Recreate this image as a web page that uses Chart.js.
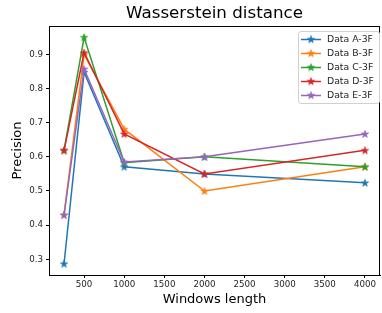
<!DOCTYPE html>
<html>
<head>
<meta charset="utf-8">
<script src="https://cdn.jsdelivr.net/npm/chart.js@4.4.1/dist/chart.umd.min.js"></script>
<style>
  html, body { margin: 0; padding: 0; background: #fff; }
  #wrap { width: 382px; height: 313px; }
</style>
</head>
<body>
<div id="wrap"><canvas id="chart" width="382" height="313"></canvas></div>
<script>
const windowLengths = [250, 500, 1000, 2000, 4000];
const seriesNames = ['Data A-3F', 'Data B-3F', 'Data C-3F', 'Data D-3F', 'Data E-3F'];
const dataA = [0.287, 0.848, 0.571, 0.550, 0.524];
const dataB = [0.430, 0.900, 0.681, 0.500, 0.571];
const dataC = [0.619, 0.950, 0.583, 0.600, 0.571];
const dataD = [0.619, 0.905, 0.667, 0.550, 0.619];
const dataE = [0.430, 0.857, 0.585, 0.600, 0.667];
const xTicks = [500, 1000, 1500, 2000, 2500, 3000, 3500, 4000];
const yTicks = [0.3, 0.4, 0.5, 0.6, 0.7, 0.8, 0.9];
const colors = ['#1f77b4', '#ff7f0e', '#2ca02c', '#d62728', '#9467bd'];

const FONT = "'DejaVu Sans', sans-serif";

function makeStar(color) {
  const c = document.createElement('canvas');
  c.width = 10; c.height = 10;
  const g = c.getContext('2d');
  const cx = 5, cy = 5.3, ro = 3.9, ri = 1.6;
  g.beginPath();
  for (let i = 0; i < 10; i++) {
    const r = i % 2 === 0 ? ro : ri;
    const a = -Math.PI / 2 + i * Math.PI / 5;
    const px = cx + r * Math.cos(a), py = cy + r * Math.sin(a);
    if (i === 0) g.moveTo(px, py); else g.lineTo(px, py);
  }
  g.closePath();
  g.fillStyle = color;
  g.fill();
  g.lineWidth = 0.6;
  g.strokeStyle = color;
  g.stroke();
  return c;
}

const starImages = colors.map(makeStar);
const allData = [dataA, dataB, dataC, dataD, dataE];

const datasets = allData.map((vals, i) => ({
  label: seriesNames[i],
  data: windowLengths.map((x, j) => ({ x, y: vals[j] })),
  borderColor: colors[i],
  backgroundColor: colors[i],
  borderWidth: 1.5,
  pointStyle: starImages[i],
  pointRadius: 4,
  tension: 0,
  order: allData.length - i
}));

function noPad(scale) {
  scale.paddingLeft = 0;
  scale.paddingRight = 0;
  scale.paddingTop = 0;
  scale.paddingBottom = 0;
}

// title, axis labels and the top/right spines, placed like matplotlib does
const framePlugin = {
  id: 'frame',
  afterDatasetsDraw(chart) {
    const { ctx, chartArea: a } = chart;
    ctx.save();
    ctx.strokeStyle = '#000';
    ctx.lineWidth = 1;
    ctx.strokeRect(Math.round(a.left) + 0.5, Math.round(a.top) + 0.5,
      Math.round(a.right - a.left) - 1, Math.round(a.bottom - a.top));
    const midX = (a.left + a.right) / 2;
    ctx.fillStyle = '#000';
    ctx.textAlign = 'center';
    ctx.textBaseline = 'middle';
    ctx.font = `16.7px ${FONT}`;
    ctx.fillText('Wasserstein distance', midX, 14);
    ctx.font = `13px ${FONT}`;
    ctx.fillText('Windows length', midX, 300);
    ctx.translate(18, (a.top + a.bottom) / 2);
    ctx.rotate(-Math.PI / 2);
    ctx.fillText('Precision', 0, 0);
    ctx.restore();
  }
};

const legendPlugin = {
  id: 'boxLegend',
  afterDraw(chart) {
    const { ctx } = chart;
    const x0 = 298, y0 = 31, w = 81, h = 72, rowH = 14;
    ctx.save();
    ctx.beginPath();
    ctx.roundRect(x0 + 0.5, y0 + 0.5, w, h, 2.5);
    ctx.fillStyle = 'rgba(255,255,255,0.8)';
    ctx.fill();
    ctx.strokeStyle = '#d0d0d0';
    ctx.lineWidth = 1;
    ctx.stroke();
    ctx.font = `9.3px ${FONT}`;
    ctx.textBaseline = 'middle';
    chart.data.datasets.forEach((ds, i) => {
      const cy = y0 + 8.5 + i * rowH;
      ctx.beginPath();
      ctx.moveTo(x0 + 3, cy);
      ctx.lineTo(x0 + 23, cy);
      ctx.strokeStyle = ds.borderColor;
      ctx.lineWidth = 1.5;
      ctx.stroke();
      ctx.drawImage(starImages[i], x0 + 13 - 5, cy - 5.3);
      ctx.fillStyle = '#262626';
      ctx.fillText(ds.label, x0 + 29, cy + 0.5);
    });
    ctx.restore();
  }
};

new Chart(document.getElementById('chart'), {
  type: 'line',
  data: { datasets },
  options: {
    responsive: false,
    animation: false,
    layout: { autoPadding: false, padding: { left: 0, right: 2, top: 26, bottom: 0 } },
    plugins: {
      legend: { display: false },
      tooltip: { enabled: false },
      title: { display: false }
    },
    scales: {
      x: {
        type: 'linear',
        min: 62.5,
        max: 4187.5,
        afterBuildTicks(scale) { scale.ticks = xTicks.map(v => ({ value: v })); },
        afterFit(scale) {
          scale.height = 38;
          noPad(scale);
        },
        ticks: {
          color: '#262626',
          font: { family: FONT, size: 8.7 },
          maxRotation: 0,
          autoSkip: false,
          padding: 2,
          callback: v => String(v)
        },
        grid: { display: true, drawOnChartArea: false, drawTicks: true, tickLength: 3, color: '#000' },
        border: { display: true, color: '#000' }
      },
      y: {
        type: 'linear',
        min: 0.254,
        max: 0.983,
        afterBuildTicks(scale) { scale.ticks = yTicks.map(v => ({ value: v })); },
        afterFit(scale) {
          scale.width = 49;
          noPad(scale);
        },
        ticks: {
          color: '#262626',
          font: { family: FONT, size: 8.7 },
          padding: 3,
          callback: v => v.toFixed(1)
        },
        grid: { display: true, drawOnChartArea: false, drawTicks: true, tickLength: 3, color: '#000' },
        border: { display: true, color: '#000' }
      }
    }
  },
  plugins: [framePlugin, legendPlugin]
});
</script>
</body>
</html>
